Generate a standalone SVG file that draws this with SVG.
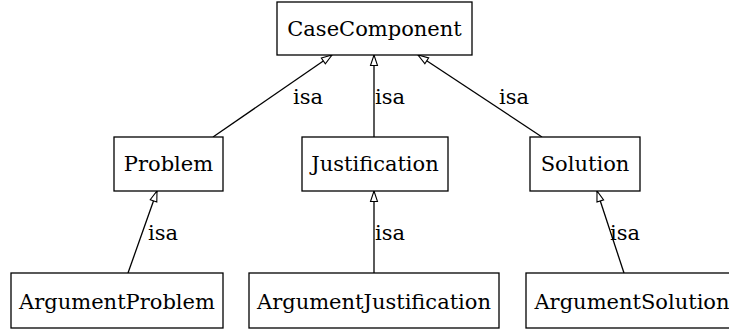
<svg xmlns="http://www.w3.org/2000/svg" width="729" height="334" viewBox="0 0 729 334">
<style>
.n rect{fill:#fff;stroke:#000;stroke-width:1.3}
text{font-family:"DejaVu Serif",serif;font-size:21px;fill:#000}
.n text{text-anchor:middle}
.e line{stroke:#000;stroke-width:1.3;marker-end:url(#oa)}
</style>
<defs>
<marker id="oa" markerUnits="userSpaceOnUse" markerWidth="12" markerHeight="9" refX="10.5" refY="3.5" orient="auto" overflow="visible">
<path d="M0,0 L10.5,3.5 L0,7 Z" fill="#fff" stroke="#000" stroke-width="1.1"/>
</marker>
</defs>
<rect width="729" height="334" fill="#fff"/>
<g class="e" id="connectors">
<line x1="213" y1="137" x2="332" y2="55"/>
<line x1="374" y1="137" x2="374" y2="55"/>
<line x1="542" y1="137" x2="418" y2="55"/>
<line x1="128" y1="273" x2="157" y2="191"/>
<line x1="374" y1="273" x2="374" y2="191"/>
<line x1="624" y1="273" x2="597" y2="191"/>
<text x="293" y="104">isa</text>
<text x="375" y="104">isa</text>
<text x="499" y="104">isa</text>
<text x="148" y="240">isa</text>
<text x="375" y="240">isa</text>
<text x="610" y="240">isa</text>
</g>
<g class="n" id="CaseComponent"><rect x="277" y="2" width="195" height="53"/><text x="374.5" y="36">CaseComponent</text></g>
<g class="n" id="Problem"><rect x="114" y="137" width="109" height="54"/><text x="168.5" y="171">Problem</text></g>
<g class="n" id="Justification"><rect x="302" y="137" width="146" height="54"/><text x="375" y="171">Justification</text></g>
<g class="n" id="Solution"><rect x="530" y="137" width="110" height="54"/><text x="585" y="171">Solution</text></g>
<g class="n" id="ArgumentProblem"><rect x="11" y="273" width="212" height="55"/><text x="117" y="309">ArgumentProblem</text></g>
<g class="n" id="ArgumentJustification"><rect x="249" y="273" width="250" height="55"/><text x="374" y="309">ArgumentJustification</text></g>
<g class="n" id="ArgumentSolution"><rect x="526" y="273" width="212" height="55"/><text x="632" y="309">ArgumentSolution</text></g>
</svg>
